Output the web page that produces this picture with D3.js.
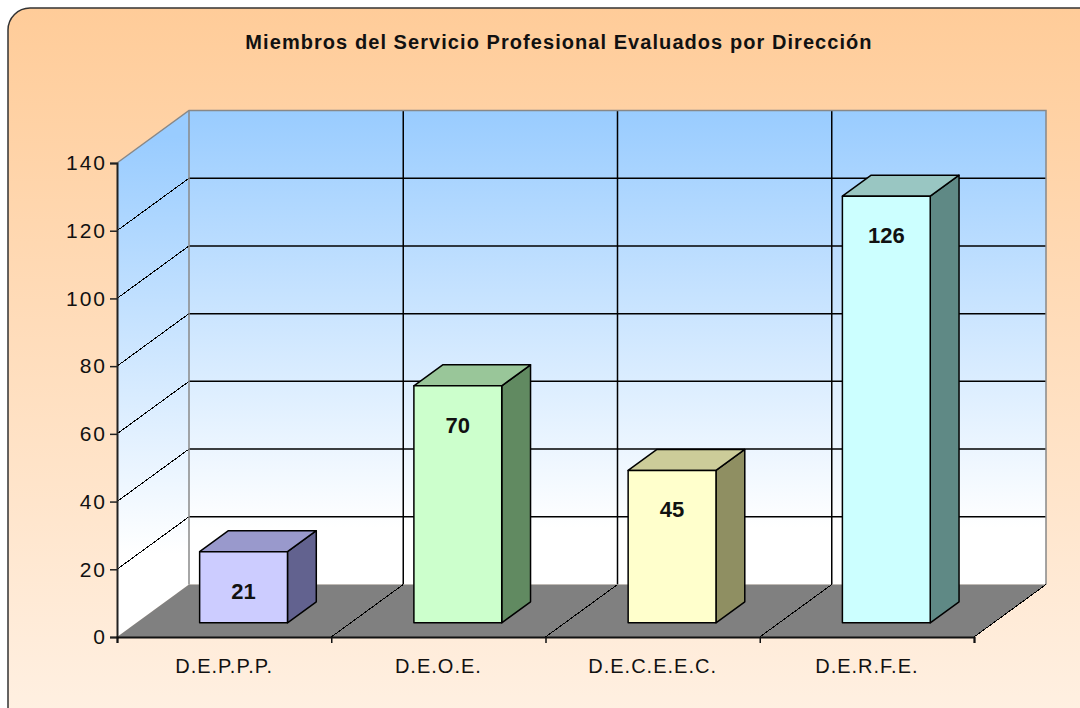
<!DOCTYPE html>
<html>
<head>
<meta charset="utf-8">
<script src="https://cdn.jsdelivr.net/npm/d3@7/dist/d3.min.js"></script>
<style>
  html, body { margin: 0; padding: 0; background: #ffffff; }
  svg { display: block; }
  text { font-family: Arial, "Liberation Sans", sans-serif; }
</style>
</head>
<body>
<svg id="chart" width="1080" height="708"></svg>
<script>
const title = "Miembros del Servicio Profesional Evaluados por Dirección";
const categories = ["D.E.P.P.P.", "D.E.O.E.", "D.E.C.E.E.C.", "D.E.R.F.E."];
const values = [21, 70, 45, 126];
const yTicks = [0, 20, 40, 60, 80, 100, 120, 140];
const frontColors = ["#CCCCFF", "#CCFFCC", "#FFFFCC", "#CCFFFF"];
const topColors = ["#9999CC", "#99C699", "#CCCC99", "#99C6C2"];
const sideColors = ["#62628F", "#618A61", "#8F8F62", "#5F8985"];

const svg = d3.select("#chart");
const W = 1080, H = 708;

// geometry of the front plane and depth projection
const x = d3.scaleBand().domain(categories).range([117, 974]).paddingInner(0).paddingOuter(0);
const y = d3.scaleLinear().domain([0, 140]).range([637, 163]);
const DX = 72, DY = -52.5;
const z0 = 0.27, z1 = 0.67, barFrac = 0.41;

const defs = svg.append("defs");
const bg = defs.append("linearGradient").attr("id", "bgGrad").attr("x1", 0).attr("y1", 0).attr("x2", 0).attr("y2", 1);
bg.append("stop").attr("offset", "0%").attr("stop-color", "#FFCC99");
bg.append("stop").attr("offset", "100%").attr("stop-color", "#FFF2E6");

const wall = defs.append("linearGradient").attr("id", "wallGrad")
  .attr("gradientUnits", "userSpaceOnUse").attr("x1", 0).attr("y1", y(140) + DY).attr("x2", 0).attr("y2", y(0) + DY);
wall.append("stop").attr("offset", "0%").attr("stop-color", "#99CCFF");
wall.append("stop").attr("offset", "88%").attr("stop-color", "#FFFFFF");
wall.append("stop").attr("offset", "100%").attr("stop-color", "#FFFFFF");

const wallL = defs.append("linearGradient").attr("id", "wallGradL")
  .attr("gradientUnits", "userSpaceOnUse").attr("x1", 0).attr("y1", y(140) + DY * 0.5).attr("x2", 0).attr("y2", y(0) + DY * 0.5);
wallL.append("stop").attr("offset", "0%").attr("stop-color", "#99CCFF");
wallL.append("stop").attr("offset", "88%").attr("stop-color", "#FFFFFF");
wallL.append("stop").attr("offset", "100%").attr("stop-color", "#FFFFFF");

// background panel
svg.append("rect").attr("x", 8).attr("y", 8).attr("width", W + 40).attr("height", H + 40)
  .attr("rx", 22).attr("ry", 22)
  .attr("fill", "url(#bgGrad)").attr("stroke", "#333333").attr("stroke-width", 1.5);

const xL = x.range()[0], xR = x.range()[1];
const yTop = y(140), yBot = y(0);
const pt = (px, py) => px + "," + py;

// left side wall
svg.append("polygon")
  .attr("points", [pt(xL, yTop), pt(xL + DX, yTop + DY), pt(xL + DX, yBot + DY), pt(xL, yBot)].join(" "))
  .attr("fill", "url(#wallGradL)");
// back wall
svg.append("rect").attr("x", xL + DX).attr("y", yTop + DY).attr("width", xR - xL).attr("height", yBot - yTop)
  .attr("fill", "url(#wallGrad)");

// horizontal gridlines on back wall and diagonals on side wall
const grid = svg.append("g");
yTicks.filter(t => t > 0 && t < 140).forEach(t => {
  grid.append("line").attr("x1", xL + DX).attr("x2", xR + DX).attr("y1", y(t) + DY).attr("y2", y(t) + DY)
    .attr("stroke", "#000").attr("stroke-width", 1.5);
  grid.append("line").attr("x1", xL).attr("y1", y(t)).attr("x2", xL + DX).attr("y2", y(t) + DY)
    .attr("stroke", "#000").attr("stroke-width", 1).attr("shape-rendering", "crispEdges");
});
// vertical gridlines on back wall at category boundaries
const bounds = categories.map(c => x(c)).concat([xR]);
bounds.slice(1, -1).forEach(b => {
  grid.append("line").attr("x1", b + DX).attr("x2", b + DX).attr("y1", yTop + DY).attr("y2", yBot + DY)
    .attr("stroke", "#000").attr("stroke-width", 1.5);
});
// wall borders (gray)
grid.append("polyline")
  .attr("points", [pt(xL, yTop), pt(xL + DX, yTop + DY), pt(xR + DX, yTop + DY), pt(xR + DX, yBot + DY)].join(" "))
  .attr("fill", "none").attr("stroke", "#888888").attr("stroke-width", 1.5);
grid.append("line").attr("x1", xL + DX).attr("x2", xL + DX).attr("y1", yTop + DY).attr("y2", yBot + DY)
  .attr("stroke", "#888888").attr("stroke-width", 1.5);

// floor
svg.append("polygon")
  .attr("points", [pt(xL, yBot), pt(xR, yBot), pt(xR + DX, yBot + DY), pt(xL + DX, yBot + DY)].join(" "))
  .attr("fill", "#808080");
bounds.slice(1).forEach(b => {
  svg.append("line").attr("x1", b).attr("y1", yBot).attr("x2", b + DX).attr("y2", yBot + DY)
    .attr("stroke", "#000").attr("stroke-width", 1).attr("shape-rendering", "crispEdges");
});

// bars
const bw = x.bandwidth() * barFrac;
const bars = svg.append("g");
categories.forEach((c, i) => {
  const v = values[i];
  const fx = x(c) + (x.bandwidth() - bw) / 2 + z0 * DX;
  const fyB = y(0) + z0 * DY;
  const fyT = y(v) + z0 * DY;
  const ddx = (z1 - z0) * DX, ddy = (z1 - z0) * DY;
  const g = bars.append("g").attr("stroke", "#000").attr("stroke-width", 1.5).attr("stroke-linejoin", "round");
  g.append("polygon")
    .attr("points", [pt(fx + bw, fyT), pt(fx + bw + ddx, fyT + ddy), pt(fx + bw + ddx, fyB + ddy), pt(fx + bw, fyB)].join(" "))
    .attr("fill", sideColors[i]);
  g.append("polygon")
    .attr("points", [pt(fx, fyT), pt(fx + ddx, fyT + ddy), pt(fx + bw + ddx, fyT + ddy), pt(fx + bw, fyT)].join(" "))
    .attr("fill", topColors[i]);
  g.append("rect").attr("x", fx).attr("y", fyT).attr("width", bw).attr("height", fyB - fyT)
    .attr("fill", frontColors[i]);
  svg.append("text").attr("x", fx + bw / 2).attr("y", fyT + 47)
    .attr("text-anchor", "middle").attr("font-size", 22).attr("font-weight", "bold").attr("fill", "#111")
    .text(v);
});

// y axis
const yAxis = d3.axisLeft(y).tickValues(yTicks).tickSize(7).tickPadding(5).tickFormat(d3.format("d"));
const ya = svg.append("g").attr("transform", `translate(${xL},0)`).call(yAxis);
ya.select(".domain").attr("stroke", "#222").attr("stroke-width", 2);
ya.selectAll(".tick line").attr("stroke", "#222").attr("stroke-width", 1.5);
ya.selectAll(".tick text").attr("font-size", 21).attr("font-family", "Arial, 'Liberation Sans', sans-serif")
  .attr("fill", "#111").attr("letter-spacing", 2).attr("dx", 2);

// x axis
const xAxisScale = d3.scaleLinear().domain([0, categories.length]).range([xL, xR]);
const xa = svg.append("g").attr("transform", `translate(0,${yBot})`)
  .call(d3.axisBottom(xAxisScale).tickValues(d3.range(categories.length + 1)).tickSize(6).tickFormat(""));
xa.select(".domain").attr("stroke", "#111").attr("stroke-width", 2);
xa.selectAll(".tick line").attr("stroke", "#111").attr("stroke-width", 1.5);
categories.forEach(c => {
  svg.append("text").attr("x", x(c) + x.bandwidth() / 2).attr("y", yBot + 36)
    .attr("text-anchor", "middle").attr("font-size", 20).attr("fill", "#111").attr("letter-spacing", 1)
    .text(c);
});

// title
const t = svg.append("text").attr("x", 559).attr("y", 49).attr("text-anchor", "middle")
  .attr("font-size", 20).attr("font-weight", "bold").attr("fill", "#111").text(title);
const target = 626;
const w0 = t.node().getComputedTextLength();
const ls = (target - w0) / (title.length - 1);
t.attr("letter-spacing", ls.toFixed(2));
</script>
</body>
</html>
